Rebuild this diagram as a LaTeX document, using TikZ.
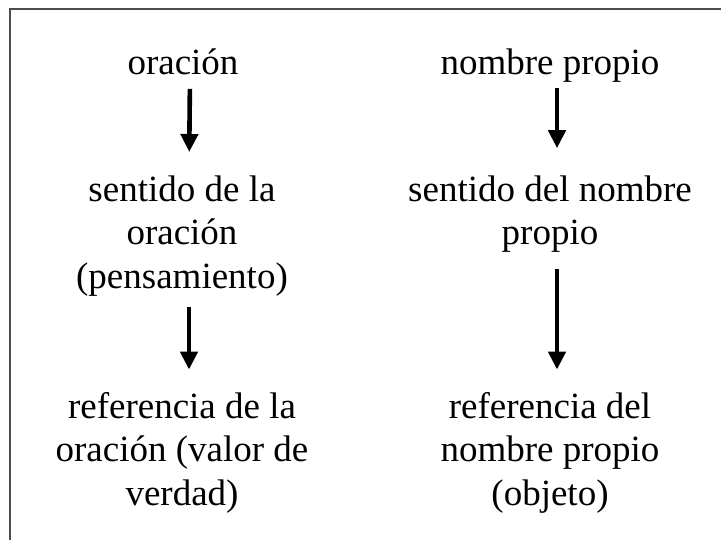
\documentclass[tikz,border=0pt]{standalone}
\usepackage{fontspec}
\setmainfont{Liberation Serif}
\usepackage{tikz}
\usetikzlibrary{arrows.meta}
\tikzset{
  frg_n/.style = {align=center, inner sep=0pt, outer sep=0pt, anchor=north,
    font=\fontsize{18.5}{21.6}\selectfont},
  frg_a/.style = {-{Triangle[length=9pt,width=8.5pt]}, line width=2.3pt,
    shorten >=11.5pt},% flecha hacia abajo
  frg_m/.style = {draw=black!70, line width=0.9pt}% marco
}

\begin{document}
\begin{tikzpicture}[x=1pt,y=1pt]
\useasboundingbox (0,0) rectangle (360.5,-270);
\draw [frg_m] (5,-270) |- (360.5,-4.65);
% oracion
\node [frg_n] (or) at (91.5,-24.4) {oración};
\node [frg_n] (so) at (91,-88) {sentido de la\\oración\\(pensamiento)};
\node [frg_n] (ro) at (91,-196.3) {referencia de la\\oración (valor de\\verdad)};
% nombre propio
\node [frg_n] (np) at (275,-24.5) {nombre propio};
\node [frg_n] (sn) at (275,-88) {sentido del nombre\\propio};
\node [frg_n] (rn) at (275,-196.3) {referencia del\\nombre propio\\(objeto)};

\draw [frg_a, shorten <=7pt, shorten >=12pt] ([xshift=3.5pt]or.south) -- ([xshift=3.5pt]so.north);
\draw [frg_a, shorten <=5.5pt] ([xshift=3.5pt]so.south) -- ([xshift=3.5pt]ro.north);
\draw [frg_a, shorten <=2.5pt, shorten >=13.9pt] ([xshift=3.5pt]np.south) -- ([xshift=3.5pt]sn.north);
\draw [frg_a, shorten <=8pt] ([xshift=3.5pt]sn.south) -- ([xshift=3.5pt]rn.north);
\end{tikzpicture}
\end{document}
